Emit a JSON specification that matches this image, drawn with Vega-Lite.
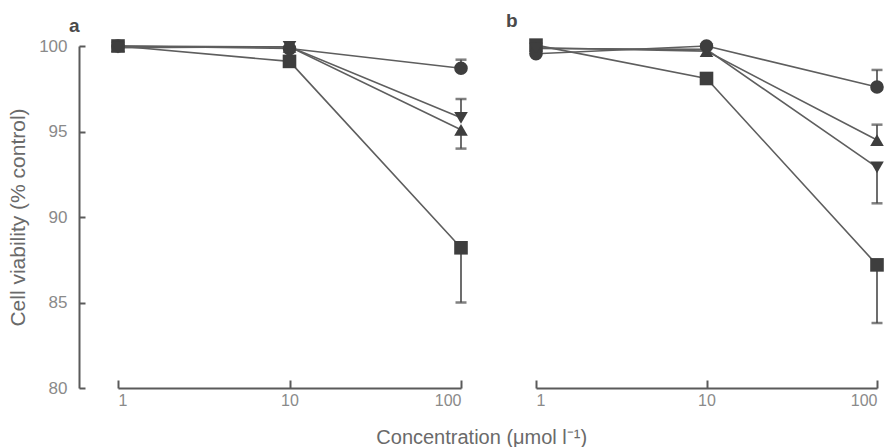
{
  "$schema": "https://vega.github.io/schema/vega-lite/v6.json",
  "background": "#ffffff",
  "padding": {"left": 7, "top": 12, "right": 0, "bottom": 0},
  "autosize": {"type": "pad"},
  "bounds": "flush",
  "spacing": 75,
  "title": {"text": "Concentration (μmol l⁻¹)", "orient": "bottom", "anchor": "middle", "dx": 36, "fontSize": 20, "font": "Liberation Sans", "fontWeight": "normal", "color": "#6a6a6a", "offset": 20},
  "config": {
    "view": {"stroke": null},
    "font": "Liberation Sans",
    "axis": {"labelFont": "Liberation Sans", "titleFont": "Liberation Sans", "grid": false, "domainColor": "#5a5a5a", "tickColor": "#5a5a5a", "labelColor": "#8a8a8a", "titleColor": "#6a6a6a", "labelFontSize": 17, "titleFontSize": 21, "titleFontWeight": "normal", "domainWidth": 2, "tickWidth": 2}
  },
  "datasets": {
    "pts": [
      {"panel": "a", "s": "square", "c": 1, "v": 100.0, "e": null},
      {"panel": "a", "s": "square", "c": 10, "v": 99.1, "e": null},
      {"panel": "a", "s": "square", "c": 100, "v": 88.2, "e": 85.0},
      {"panel": "a", "s": "circle", "c": 1, "v": 100.0, "e": null},
      {"panel": "a", "s": "circle", "c": 10, "v": 99.85, "e": null},
      {"panel": "a", "s": "circle", "c": 100, "v": 98.7, "e": 99.2},
      {"panel": "a", "s": "triangle-up", "c": 1, "v": 100.0, "e": null},
      {"panel": "a", "s": "triangle-up", "c": 10, "v": 99.95, "e": null},
      {"panel": "a", "s": "triangle-up", "c": 100, "v": 95.1, "e": 94.0},
      {"panel": "a", "s": "triangle-down", "c": 1, "v": 99.9, "e": null},
      {"panel": "a", "s": "triangle-down", "c": 10, "v": 99.95, "e": null},
      {"panel": "a", "s": "triangle-down", "c": 100, "v": 95.8, "e": 96.9},
      {"panel": "b", "s": "square", "c": 1, "v": 100.05, "e": null},
      {"panel": "b", "s": "square", "c": 10, "v": 98.1, "e": null},
      {"panel": "b", "s": "square", "c": 100, "v": 87.2, "e": 83.8},
      {"panel": "b", "s": "circle", "c": 1, "v": 99.55, "e": null},
      {"panel": "b", "s": "circle", "c": 10, "v": 100.0, "e": null},
      {"panel": "b", "s": "circle", "c": 100, "v": 97.6, "e": 98.6},
      {"panel": "b", "s": "triangle-up", "c": 1, "v": 99.9, "e": null},
      {"panel": "b", "s": "triangle-up", "c": 10, "v": 99.7, "e": null},
      {"panel": "b", "s": "triangle-up", "c": 100, "v": 94.5, "e": 95.4},
      {"panel": "b", "s": "triangle-down", "c": 1, "v": 99.85, "e": null},
      {"panel": "b", "s": "triangle-down", "c": 10, "v": 99.8, "e": null},
      {"panel": "b", "s": "triangle-down", "c": 100, "v": 92.9, "e": 90.8}
    ]
  },
  "hconcat": [
    {
      "width": 343,
      "height": 342,
      "title": {"text": "a", "anchor": "start", "frame": "group", "dx": -49, "offset": 1, "fontSize": 19, "fontWeight": "bold", "color": "#4a4a4a", "font": "Liberation Sans"},
      "data": {"name": "pts"},
      "transform": [{"filter": "datum.panel === 'a'"}],
      "encoding": {
        "x": {"field": "c", "type": "quantitative", "scale": {"type": "log", "domain": [1, 100], "nice": false},
          "axis": {"values": [1, 10, 100], "title": null, "tickSize": -8, "labelPadding": 12, "labelFontSize": 16}},
        "y": {"field": "v", "type": "quantitative", "scale": {"domain": [80, 100], "nice": false, "zero": false},
          "axis": {"values": [80, 85, 90, 95, 100], "title": "Cell viability (% control)", "offset": 39, "tickSize": -6, "labelPadding": 18, "titlePadding": 10}}
      },
      "layer": [
        {"mark": {"type": "line", "color": "#5e5e5e", "strokeWidth": 1.6, "clip": false}, "encoding": {"detail": {"field": "s"}}},
        {"transform": [{"filter": "datum.e != null"}], "mark": {"type": "rule", "color": "#5e5e5e", "strokeWidth": 1.8}, "encoding": {"y2": {"field": "e"}}},
        {"transform": [{"filter": "datum.e != null"}], "mark": {"type": "tick", "orient": "horizontal", "color": "#4a4a4a", "size": 11, "thickness": 2.5}, "encoding": {"y": {"field": "e", "type": "quantitative"}}},
        {"mark": {"type": "point", "filled": true, "opacity": 1, "color": "#3e3e3e", "size": 185, "clip": false},
          "encoding": {"shape": {"field": "s", "type": "nominal", "scale": {"domain": ["square", "circle", "triangle-up", "triangle-down"], "range": ["square", "circle", "triangle-up", "triangle-down"]}, "legend": null}}}
      ]
    },
    {
      "width": 341,
      "height": 342,
      "title": {"text": "b", "anchor": "start", "frame": "group", "dx": -30, "offset": 7, "fontSize": 19, "fontWeight": "bold", "color": "#4a4a4a", "font": "Liberation Sans"},
      "data": {"name": "pts"},
      "transform": [{"filter": "datum.panel === 'b'"}],
      "encoding": {
        "x": {"field": "c", "type": "quantitative", "scale": {"type": "log", "domain": [1, 100], "nice": false},
          "axis": {"values": [1, 10, 100], "title": null, "tickSize": -8, "labelPadding": 12, "labelFontSize": 16}},
        "y": {"field": "v", "type": "quantitative", "scale": {"domain": [80, 100], "nice": false, "zero": false}, "axis": null}
      },
      "layer": [
        {"mark": {"type": "line", "color": "#5e5e5e", "strokeWidth": 1.6, "clip": false}, "encoding": {"detail": {"field": "s"}}},
        {"transform": [{"filter": "datum.e != null"}], "mark": {"type": "rule", "color": "#5e5e5e", "strokeWidth": 1.8}, "encoding": {"y2": {"field": "e"}}},
        {"transform": [{"filter": "datum.e != null"}], "mark": {"type": "tick", "orient": "horizontal", "color": "#4a4a4a", "size": 11, "thickness": 2.5}, "encoding": {"y": {"field": "e", "type": "quantitative"}}},
        {"mark": {"type": "point", "filled": true, "opacity": 1, "color": "#3e3e3e", "size": 185, "clip": false},
          "encoding": {"shape": {"field": "s", "type": "nominal", "scale": {"domain": ["square", "circle", "triangle-up", "triangle-down"], "range": ["square", "circle", "triangle-up", "triangle-down"]}, "legend": null}}}
      ]
    }
  ]
}
